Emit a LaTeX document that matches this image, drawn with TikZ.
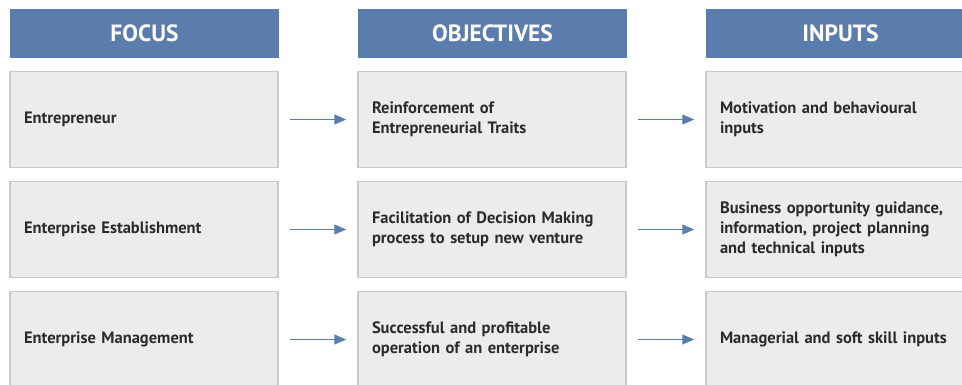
\documentclass[tikz,border=0pt]{standalone}
\usepackage{fontspec}
\setmainfont{PT Sans}
\usepackage{tikz}
\usetikzlibrary{arrows.meta,positioning}
\definecolor{headblue}{HTML}{5B7DAD}
\definecolor{cellgray}{HTML}{EBECEB}
\definecolor{cellline}{HTML}{C9C9C9}
\definecolor{celltext}{HTML}{2B2B2B}

\begin{document}
\begin{tikzpicture}[x=1pt,y=-1pt,
  head/.style={fill=headblue,text=white,minimum width=269pt,minimum height=49pt,
    inner sep=0pt,font=\fontsize{23.5}{26}\selectfont\bfseries},
  cell/.style={draw=cellline,line width=1.5pt,fill=cellgray,text=celltext,
    minimum width=268pt,minimum height=96pt,inner xsep=14pt,inner ysep=0pt,
    text width=240pt,align=left,font=\fontsize{16.5}{20}\selectfont\bfseries},
  flow/.style={draw=headblue,line width=1.2pt,shorten <=11pt,shorten >=11pt,
    -{Triangle[length=12pt,width=10pt]}}]

\useasboundingbox (0,0) rectangle (962,384);
\clip (0,0) rectangle (962,384);

% --- headers -----------------------------------------------------------
\node[head] (hF) at (144.5,33.5) {FOCUS};
\node[head] (hO) at (492.5,33.5) {OBJECTIVES};
\node[head] (hI) at (840.5,33.5) {INPUTS};

% --- focus -------------------------------------------------------------
\node[cell] (f1) at (144,119.5) {Entrepreneur};
\node[cell] (f2) at (144,229.5) {Enterprise Establishment};
\node[cell] (f3) at (144,339.5) {Enterprise Management};

% --- objectives --------------------------------------------------------
\node[cell] (o1) at (492,119.5) {Reinforcement of\\Entrepreneurial Traits};
\node[cell] (o2) at (492,229.5) {Facilitation of Decision Making\\process to setup new venture};
\node[cell] (o3) at (492,339.5) {Successful and profitable\\operation of an enterprise};

% --- inputs ------------------------------------------------------------
\node[cell] (i1) at (840,119.5) {Motivation and behavioural\\inputs};
\node[cell] (i2) at (840,229.5) {Business opportunity guidance,\\information, project planning\\and technical inputs};
\node[cell] (i3) at (840,339.5) {Managerial and soft skill inputs};

% --- arrows ------------------------------------------------------------
\draw[flow] (f1) -- (o1);
\draw[flow] (f2) -- (o2);
\draw[flow] (f3) -- (o3);
\draw[flow] (o1) -- (i1);
\draw[flow] (o2) -- (i2);
\draw[flow] (o3) -- (i3);
\end{tikzpicture}
\end{document}
